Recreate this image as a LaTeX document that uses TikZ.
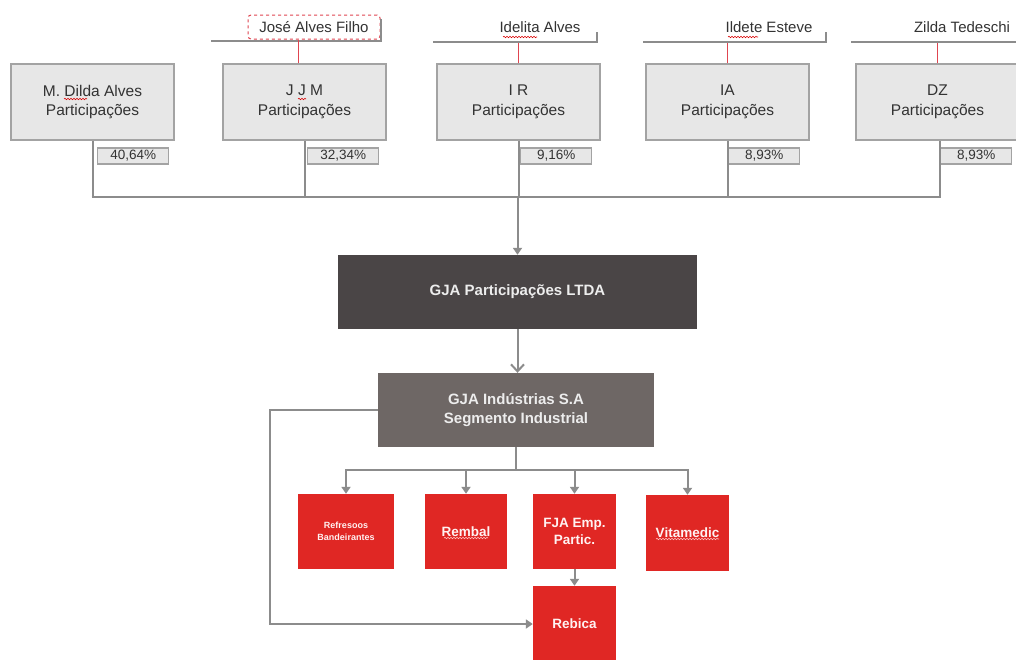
\documentclass[tikz,border=0pt]{standalone}
\usepackage{fontspec}
\setmainfont{Liberation Sans}
\usetikzlibrary{arrows.meta,decorations.pathmorphing,calc}
\definecolor{boxfill}{HTML}{E7E7E7}
\definecolor{boxline}{HTML}{A3A3A3}
\definecolor{connc}{HTML}{8C8C8C}
\definecolor{darkbox}{HTML}{4A4546}
\definecolor{midbox}{HTML}{6E6765}
\definecolor{redbox}{HTML}{E02724}
\definecolor{redln}{HTML}{E04550}
\definecolor{txt}{HTML}{333333}
\begin{document}
\begin{tikzpicture}[x=1pt,y=-1pt,
  topbox/.style={draw=boxline, fill=boxfill, line width=1.6pt, minimum width=163pt, minimum height=76pt, align=center, inner sep=0pt, text=txt, font=\fontsize{15.5}{19.5}\selectfont},
  pctbox/.style={draw=boxline, fill=boxfill, line width=1.3pt, minimum width=71pt, minimum height=16pt, inner sep=0pt, anchor=west, text=txt, font=\fontsize{13.5}{15}\selectfont},
  namebox/.style={inner sep=0pt, text=txt, font=\fontsize{15}{18}\selectfont},
  nameline/.style={draw=connc, line width=2pt},
  redconn/.style={draw=redln, line width=1.1pt},
  conn/.style={draw=connc, line width=2pt},
  arr/.style={conn, -{Triangle[length=7pt,width=9pt]}},
  barb/.style={conn, -{Straight Barb[length=7pt,width=13pt]}},
  darkstyle/.style={fill=darkbox, minimum width=359pt, minimum height=74pt, inner sep=0pt, align=center, text=white!93!black, font=\bfseries\fontsize{15}{19}\selectfont},
  midstyle/.style={fill=midbox, minimum width=276pt, minimum height=74pt, inner sep=0pt, align=center, text=white!93!black, font=\bfseries\fontsize{15}{19}\selectfont},
  redstyle/.style={fill=redbox, minimum width=83pt, minimum height=75pt, inner sep=0pt, align=center, text=white!95!red, font=\bfseries\fontsize{13.5}{17}\selectfont},
  squig/.style={draw=red!85!black, line width=0.6pt, decorate, decoration={snake, segment length=3pt, amplitude=0.7pt}},
  lsquig/.style={draw=white!75!red, line width=0.6pt, decorate, decoration={snake, segment length=3pt, amplitude=0.7pt}}
]
\useasboundingbox[fill=white] (0,0) rectangle (1016,659);

% top boxes
\node[topbox] (md)  at (92.5,102)  {M. Dilda Alves\\Participações};
\node[topbox] (jjm) at (304.5,102) {J J M\\Participações};
\node[topbox] (ir)  at (518.5,102) {I R\\Participações};
\node[topbox] (ia)  at (727.5,102) {IA\\Participações};
\node[topbox] (dz)  at (937.5,102) {DZ\\Participações};

% spell-check marks
\draw[squig] (64,99) -- (87,99);
\draw[squig] (298,99) -- (306,99);

% owners
\node[draw=redln, dashed, rounded corners=3pt, line width=1pt, minimum width=132pt, minimum height=24pt, inner sep=0pt, text=txt, font=\fontsize{15}{18}\selectfont] (jaf) at (314,27) {José Alves Filho};
\node[namebox] (idl) at (540,27) {Idelita Alves};
\node[namebox] (ild) at (769,27) {Ildete Esteve};
\node[namebox] (zil) at (962,27) {Zilda Tedeschi};
\draw[squig] (503,37) -- (537,37);
\draw[squig] (728,37) -- (758,37);

\coordinate (n1L) at (211,41);  \coordinate (n1R) at (381,41);
\coordinate (n2L) at (433,42);  \coordinate (n2R) at (597,42);
\coordinate (n3L) at (643,42);  \coordinate (n3R) at (826,42);
\coordinate (n4L) at (851,42);  \coordinate (n4R) at (1016,42);
\draw[nameline] (n1L) -- (n1R) -- ++(0,-22);
\draw[nameline] (n2L) -- (n2R) -- ++(0,-10);
\draw[nameline] (n3L) -- (n3R) -- ++(0,-10);
\draw[nameline] (n4L) -- (n4R);

\draw[redconn] ($(jjm.north)+(-6,0)$) -- ++(0,-23);
\draw[redconn] (ir.north) -- ($(ir.north |- n2L)+(0,1)$);
\draw[redconn] (ia.north) -- ($(ia.north |- n3L)+(0,1)$);
\draw[redconn] (dz.north) -- ($(dz.north |- n4L)+(0,1)$);

% percentages
\node[pctbox] (p1) at (97,156)  {40,64\%};
\node[pctbox] (p2) at (307,156) {32,34\%};
\node[pctbox] (p3) at (520,156) {9,16\%};
\node[pctbox] (p4) at (728,156) {8,93\%};
\node[pctbox] (p5) at (940,156) {8,93\%};

% holding
\node[darkstyle] (gjap) at (517.5,292) {GJA Participações LTDA};
\node[midstyle] (gjai) at (516,410) {GJA Indústrias S.A\\Segmento Industrial};

% bus
\coordinate (bus) at (0,197);
\draw[conn] (md.south) -- (md.south |- bus);
\draw[conn] (jjm.south) -- (jjm.south |- bus);
\draw[conn] (ir.south) -- (ir.south |- bus);
\draw[conn] (ia.south) -- (ia.south |- bus);
\draw[conn] ($(dz.south)+(2,0)$) -- ($(dz.south |- bus)+(2,0)$);
\draw[conn] ($(md.south |- bus)+(-1,0)$) -- ($(dz.south |- bus)+(3,0)$);
\draw[arr] (gjap.north |- bus) -- (gjap.north);
\draw[barb] (gjap.south) -- (gjap.south |- gjai.north);

% subsidiaries
\node[redstyle, minimum width=96pt, font=\bfseries\fontsize{9}{12}\selectfont] (rb) at (346,531.5) {Refresoos\\Bandeirantes};
\node[redstyle, minimum width=82pt] (rem) at (466,531.5) {Rembal};
\node[redstyle] (fja) at (574.5,531.5) {FJA Emp.\\Partic.};
\node[redstyle, minimum height=76pt] (vit) at (687.5,533) {Vitamedic};
\node[redstyle, minimum height=76pt] (reb) at (574.5,624) {Rebica};
\draw[lsquig] (444,538) -- (488,538);
\draw[lsquig] (656,539) -- (719,539);

\coordinate (branch) at (0,470);
\draw[conn] (gjai.south) -- (gjai.south |- branch);
\draw[conn] ($(rb.north |- branch)+(-1,0)$) -- ($(vit.north |- branch)+(1,0)$);
\draw[arr] (rb.north |- branch) -- (rb.north);
\draw[arr] (rem.north |- branch) -- (rem.north);
\draw[arr] (fja.north |- branch) -- (fja.north);
\draw[arr] (vit.north |- branch) -- (vit.north);
\draw[arr] (fja.south) -- (reb.north);

\coordinate (loop) at (270,0);
\draw[arr] (gjai.west) -| (loop |- reb.west) -- (reb.west);
\end{tikzpicture}
\end{document}
